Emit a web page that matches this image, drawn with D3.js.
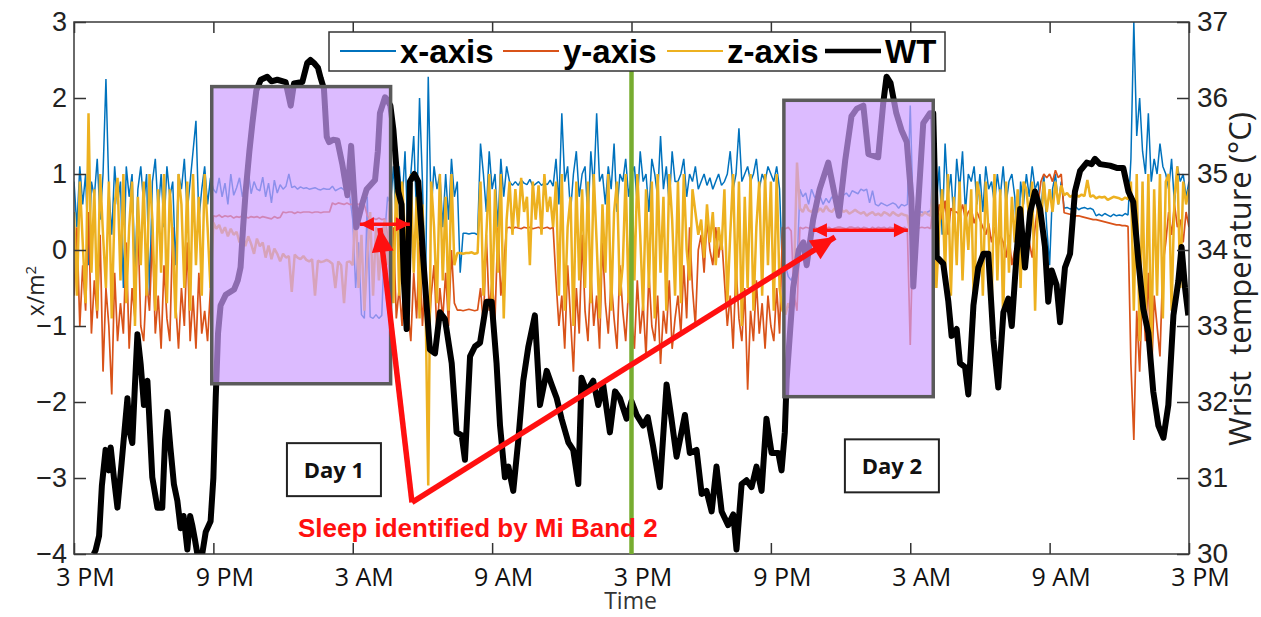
<!DOCTYPE html>
<html>
<head>
<meta charset="utf-8">
<script src="https://cdn.jsdelivr.net/npm/d3@7"></script>
<style>
  body { margin: 0; background: #fff; }
  svg { display: block; }
</style>
</head>
<body>
<svg id="chart" width="1261" height="617"></svg>
<script>
// ---------------------------------------------------------------
// Wrist accelerometer (x/y/z) and wrist temperature over 48 hours,
// starting at 3 PM. Accelerometer samples every 7.5 minutes.
// ---------------------------------------------------------------
const sampleStepHours = 0.125;

const accX = [
  0.9, 0.3, 1.1, 0.6, 1.0, -0.2, 0.9, 0.7,
  1.2, 0.4, 1.0, 2.25, 0.8, 0.2, 1.1, 0.6,
  0.9, -0.5, 1.1, 0.7, 1.0, -0.3, 0.8, 1.1,
  0.6, 1.0, -0.6, 0.9, 1.2, 0.5, 1.0, 0.3,
  1.1, 0.7, 0.9, -0.2, 1.0, 0.8, 1.2, 0.5,
  0.9, 1.3, 1.7, 0.4, 0.8, 1.1, 0.6, 0.95,
  0.8, 0.75, 0.95, 0.7, 0.88, 0.6, 1.0, 0.72,
  0.82, 0.95, 0.7, 0.86, 1.05, 0.74, 0.9, 0.8,
  0.78, 0.96, 0.7, 0.88, 0.62, 0.92, 0.75, 0.86,
  0.8, 0.84, 1.0, 0.82, 0.84, 0.8, 0.83, 0.81,
  0.82, 0.8, 0.81, 0.82, 0.8, 0.79, 0.81, 0.8,
  0.8, 0.84, 0.78, 0.8, 0.82, 0.79, 0.8, 0.7,
  0.4, -0.5, 0.1, -0.85, -0.9, 0.7, -0.88, -0.9,
  -0.85, -0.9, -0.86, 0.2, 0.7, 0.6, 1.1, 0.4,
  1.1, 0.6, 1.3, 0.2, 1.0, 1.5, 0.4, 2.0,
  0.9, -0.7, 2.28, 0.5, 1.1, 0.8, 1.0, 0.3,
  1.0, 0.4, 1.2, 0.7, 0.9, -0.3, 0.22, 0.22,
  0.21, 0.22, 0.22, 0.2, 1.4, 1.0, 0.5, 1.3,
  0.8, 1.0, 0.3, 1.2, 0.7, 1.1, 0.9, 0.85,
  0.9, 0.85, 0.92, 0.88, 0.86, 0.93, 0.84, 0.87,
  0.9, 0.85, 0.88, 0.86, 0.92, 0.84, 1.2, 0.6,
  1.8, 0.9, 1.1, 0.5, 1.0, 1.3, 0.7, 1.0,
  1.1, 0.4, 1.3, 0.8, 1.8, 0.9, 1.0, 0.6,
  1.1, 0.8, 1.4, 0.5, 1.0, 0.9, 1.2, 0.7,
  1.0, 1.1, 0.6, 1.3, 0.9, 1.0, 0.5, 1.2,
  1.0, 0.7, 1.5, 0.8, 1.1, 0.6, 1.3, 0.9,
  0.9, 1.0, 1.2, 0.7, 1.0, 0.9, 1.1, 0.8,
  0.9, 1.0, 0.85, 0.95, 0.8, 0.9, 1.0, 0.85,
  0.9, 1.0, 1.3, 0.8, 1.0, 1.6, 0.9, 1.0,
  1.1, 0.9, 1.0, 1.2, 0.8, 1.0, 0.9, 1.1,
  1.0, 0.9, 1.1, 0.8, -0.3, -0.2, -0.35, -0.4,
  -0.3, -0.25, 0.8, 0.7, 0.75, 0.6, 0.8, 0.7,
  0.65, 0.7, 0.6, 0.68, 0.62, 0.7, 0.66, 0.6,
  0.7, 0.72, 0.75, 0.7, 0.78, 0.76, 0.74, 0.8,
  0.78, 0.8, 0.62, 0.78, 0.6, 0.58, 0.62, 0.6,
  0.58, 0.6, 0.62, 0.6, 0.55, 0.6, 0.58, 0.6,
  1.9, 0.5, 0.45, 0.5, 0.5, 0.48, 0.5, 0.52,
  1.3, 0.6, 1.1, 0.2, 1.4, 0.7, 1.0, 0.4,
  1.2, 0.8, 1.3, 0.5, 1.0, 0.9, 1.1, 0.6,
  1.0, 0.5, 1.1, 0.8, 0.9, 0.6, 1.0, 0.7,
  1.1, 0.6, 0.9, 1.0, 0.7, -0.2, 0.9, 0.6,
  1.0, 0.7, 1.1, 0.8, 0.9, 0.5, 1.0, 0.3,
  -0.2, 0.8, 1.0, 0.6, 0.9, 0.55, 0.56, 0.54,
  0.55, 0.57, 0.53, 0.55, 0.56, 0.54, 0.55, 0.53,
  0.45, 0.47, 0.45, 0.48, 0.46, 0.44, 0.47, 0.45,
  0.46, 0.45, 0.48, 0.46, 1.2, 3.0, 1.5, 2.0,
  1.3, 1.0, 1.8, 0.9, 1.2, 1.0, 1.4, 1.1,
  1.0, 0.8, 1.2, 0.6, 1.1, 0.9, 1.0, 0.7,
  0.9
];

const accY = [
  -0.6, 0.3, -1.0, -0.2, -0.8, 0.5, -1.1, -0.4,
  -0.9, 0.2, -1.6, -0.5, -1.0, -1.9, -0.3, -1.2,
  -0.7, -1.1, 0.1, -1.3, -0.5, -0.9, 0.4, -1.0,
  -1.2, -0.4, -0.8, 0.2, -1.1, -0.6, -1.3, -0.2,
  -0.9, -1.2, 0.3, -0.7, -1.3, -0.5, -1.0, 0.1,
  -1.2, -0.6, -1.3, -0.3, -1.1, -0.8, -1.2, -0.5,
  0.45, 0.44, 0.46, 0.43, 0.45, 0.44, 0.45, 0.42,
  0.44, 0.43, 0.45, 0.44, 0.42, 0.44, 0.43, 0.44,
  0.42, 0.44, 0.43, 0.42, 0.41, 0.44, 0.42, 0.43,
  0.5, 0.49, 0.5, 0.5, 0.48, 0.5, 0.49, 0.5,
  0.5, 0.5, 0.49, 0.5, 0.5, 0.49, 0.5, 0.5,
  0.5, 0.62, 0.6, 0.62, 0.61, 0.6, 0.62, 0.6,
  0.6, 0.61, 0.6, 0.62, 0.6, 0.45, 0.4, 0.42,
  0.4, 0.42, 0.4, 0.41, 0.2, -0.6, 0.3, -0.9,
  -0.5, -1.0, 0.2, -0.8, -1.2, -0.3, -0.9, 0.1,
  -1.0, -0.4, -1.3, -0.6, -0.2, -1.1, -0.5, -0.9,
  -0.3, -1.0, 0.0, -0.7, -0.79, -0.79, -0.8, -0.79,
  -0.78, -0.79, -0.8, -0.79, -0.5, -1.0, 0.2, -0.8,
  -0.4, -0.9, 0.3, -0.6, -0.2, 0.29, 0.3, 0.28,
  0.3, 0.29, 0.28, 0.3, 0.29, 0.3, 0.28, 0.29,
  0.3, 0.28, 0.29, 0.3, 0.28, 0.3, -0.4, -1.0,
  -0.6, -1.3, -0.2, -0.9, -1.6, -0.5, -1.1, 0.2,
  -0.8, -1.2, -0.3, -1.0, -0.6, -1.3, 0.1, -0.7,
  -1.1, -0.4, -0.9, -1.3, -0.2, -0.8, -1.2, -0.5,
  -0.9, -1.3, -0.4, -1.1, -0.7, -1.4, -0.3, -1.0,
  -1.2, -0.6, -1.5, -0.8, -1.1, -0.4, -1.3, -0.9,
  -0.6, -1.1, -0.2, -0.9, 0.3, -0.5, -1.0, 0.0,
  0.2, -0.3, 0.4, 0.0, -0.2, 0.3, -0.1, 0.2,
  -0.4, -1.0, -0.6, -1.3, -0.2, -0.9, -1.2, -0.5,
  -1.84, -0.8, -1.2, -0.4, -1.1, -0.7, -1.3, -0.6,
  -1.0, -1.2, -0.5, -1.1, 0.3, 0.28, 0.3, 0.25,
  -0.6, -0.8, 0.3, 0.28, 0.3, 0.29, 0.27, 0.3,
  0.28, 0.3, 0.29, 0.28, 0.3, 0.27, 0.29, 0.3,
  0.3, 0.29, 0.28, 0.3, 0.3, 0.29, 0.3, 0.28,
  0.3, 0.29, 0.27, 0.3, 0.28, 0.3, 0.29, 0.3,
  0.28, 0.3, 0.29, 0.3, 0.29, 0.28, 0.3, 0.27,
  -1.25, 0.3, 0.28, 0.29, 0.3, 0.29, 0.3, 0.28,
  0.7, 0.3, 0.6, 0.4, 0.65, 0.2, 0.55, 0.5,
  0.5, 0.45, 0.6, 0.4, 0.5, 0.55, 0.35, 0.5,
  0.4, 0.3, 0.2, 0.35, 0.1, 0.3, 0.0, 0.2,
  0.1, -0.1, 0.2, -0.2, 0.0, -0.15, -0.2, -0.1,
  -0.2, 0.1, -0.1, 0.3, 0.6, 0.9, 1.0, 0.95,
  1.0, 0.9, 1.05, 0.95, 1.0, 0.49, 0.48, 0.47,
  0.46, 0.45, 0.45, 0.44, 0.43, 0.42, 0.41, 0.4,
  0.4, 0.39, 0.38, 0.37, 0.36, 0.35, 0.34, 0.33,
  0.33, 0.32, 0.32, 0.31, -1.5, -2.5, -0.8, -1.6,
  -0.5, -1.2, -0.3, -1.8, -0.6, -1.0, -1.4, -0.2,
  0.1, 0.5, 0.2, 0.6, 0.3, 0.4, 0.1, 0.5,
  0.3
];

const accZ = [
  0.5, -0.6, 0.9, 0.1, -0.7, 1.8, -0.3, 0.8,
  -0.8, 1.0, 0.2, -0.5, 0.9, -0.9, 0.6, 0.95,
  -0.4, 1.0, -0.7, 0.3, 0.9, -1.0, 0.7, -0.2,
  0.9, -0.6, 1.0, 0.4, -0.8, 0.8, -0.3, 1.0,
  -0.7, 0.8, 0.1, -0.9, 1.0, 0.6, -0.5, 0.9,
  -0.8, 1.0, -0.2, 0.7, -0.6, 1.0, 0.3, -0.5,
  0.36, 0.28, 0.33, 0.22, 0.3, 0.18, 0.28, 0.2,
  0.24, 0.1, 0.22, 0.05, 0.18, 0.08, -0.05, 0.15,
  0.05, 0.1, -0.1, 0.06, -0.12, 0.02, -0.05, -0.15,
  -0.05, -0.1, -0.08, -0.55, -0.06, -0.1, -0.12, -0.08,
  -0.13, -0.15, -0.12, -0.6, -0.14, -0.16, -0.15, -0.13,
  -0.15, -0.18, -0.5, -0.15, -0.2, -0.7, -0.16, -0.15,
  -0.2, 0.6, -0.5, 0.2, -0.8, -0.1, 0.5, -0.6,
  0.3, -0.4, 0.1, 0.4, -0.2, 0.9, -0.7, 1.0,
  -0.6, 0.9, 0.2, -0.8, 1.0, -0.3, 0.7, -0.9,
  0.6, -0.5, -3.1, 0.9, 0.3, -0.7, 1.0, -0.4,
  0.7, -0.8, 1.0, -0.2, -0.04, -0.04, -0.05, -0.04,
  -0.04, -0.03, -0.05, -0.04, 0.9, -0.6, 0.2, 1.0,
  -0.8, 0.8, -0.3, 1.0, -0.9, 0.4, 0.9, 0.2,
  0.8, 0.3, 0.95, 0.5, 0.7, -0.2, 0.9, 0.4,
  0.85, 0.2, 1.0, 0.5, 0.7, 0.3, 0.9, -0.6,
  1.0, -0.8, 0.3, 0.7, -1.0, 0.9, -0.4, 0.8,
  -0.5, 0.9, -0.7, 1.0, 0.1, -0.9, 0.6, -0.3,
  1.0, -0.8, 0.5, 0.9, -0.6, -0.2, 1.0, -0.7,
  0.9, -0.4, 1.0, 0.2, -0.8, 0.8, -0.5, 0.9,
  -0.9, 1.0, -0.3, 0.7, -0.8, 1.0, 0.4, -0.6,
  0.9, -0.7, 1.0, 0.0, -0.4, 0.8, 0.5, 0.2,
  0.4, -0.1, 0.6, 0.1, 0.5, -0.2, 0.3, 0.0,
  0.8, -0.7, 0.2, 1.0, -0.6, 0.9, -1.0, 0.7,
  -0.5, 1.0, -0.8, 0.3, 0.9, -0.6, 1.0, -0.2,
  0.9, -0.8, 1.0, -0.5, -0.8, -0.85, -0.7, -0.8,
  -0.3, 1.15, 0.55, 0.5, 0.6, 0.52, 0.5, 0.55,
  0.5, 0.55, 0.5, 0.58, 0.52, 0.5, 0.55, 0.5,
  0.55, 0.5, 0.52, 0.48, 0.5, 0.53, 0.5, 0.48,
  0.5, 0.45, 0.48, 0.5, 0.46, 0.48, 0.45, 0.5,
  0.48, 0.45, 0.5, 0.47, 0.45, 0.48, 0.46, 0.45,
  0.2, 0.5, 0.45, 0.48, 0.45, 0.5, 0.47, 0.45,
  0.9, -0.5, 0.3, 0.8, -0.3, 1.0, -0.6, 0.7,
  -0.2, 0.9, -0.4, 0.6, 0.0, 0.8, -0.9, 0.9,
  0.7, -0.6, 0.9, 0.2, -0.8, 1.0, -0.4, 0.8,
  -0.9, 0.9, -0.3, 0.7, 0.1, 0.8, -0.5, 0.9,
  0.8, 0.4, 0.9, -0.8, 0.7, 0.3, 0.9, 0.5,
  0.8, 0.5, 0.9, 0.6, 0.85, 0.72, 0.75, 0.7,
  0.72, 0.74, 0.7, 0.73, 0.71, 0.92, 0.7, 0.72,
  0.68, 0.7, 0.69, 0.7, 0.66, 0.68, 0.7, 0.69,
  0.68, 0.66, 0.69, 0.67, 0.9, -0.8, 1.0, -1.2,
  0.9, -1.0, 1.0, -1.4, 0.8, -0.6, 1.0, -0.9,
  0.9, 1.0, -0.8, 0.7, 1.1, -0.5, 0.9, 0.6,
  0.8
];

// Wrist temperature (°C), right axis
const wtHours = [
  0.85, 0.93, 1.08, 1.2, 1.36, 1.5, 1.58, 1.72, 1.87, 2.05, 2.3, 2.4, 2.51, 2.62, 2.73, 2.87,
  3.01, 3.16, 3.37, 3.59, 3.8, 3.92, 4.02, 4.15, 4.3, 4.45, 4.59, 4.72, 4.88, 5.0, 5.09, 5.2,
  5.31, 5.52, 5.67, 5.88, 6.0, 6.1, 6.2, 6.31, 6.53, 6.89, 7.05, 7.17, 7.28, 7.39, 7.55, 7.68,
  7.85, 8.04, 8.32, 8.5, 8.75, 9.11, 9.33, 9.47, 9.83, 10.04, 10.18, 10.33, 10.5, 10.62, 10.76, 10.88,
  10.98, 11.15, 11.34, 11.55, 11.77, 11.93, 12.15, 12.4, 12.6, 12.96, 13.08, 13.17, 13.39, 13.5, 13.62, 13.75,
  13.96, 14.1, 14.2, 14.32, 14.4, 14.46, 14.65, 14.82, 15.04, 15.32, 15.54, 15.75, 15.97, 16.26, 16.47, 16.69,
  16.83, 17.05, 17.26, 17.48, 17.76, 17.98, 18.19, 18.34, 18.55, 18.7, 18.91, 19.13, 19.34, 19.56, 19.84, 20.06,
  20.35, 20.56, 20.78, 20.99, 21.28, 21.49, 21.71, 21.85, 22.07, 22.35, 22.57, 22.78, 23.07, 23.29, 23.5, 23.79,
  24.0, 24.22, 24.5, 24.7, 24.93, 25.22, 25.51, 25.72, 25.94, 26.15, 26.3, 26.51, 26.8, 27.02, 27.23, 27.45,
  27.66, 27.88, 28.16, 28.38, 28.52, 28.74, 28.95, 29.17, 29.38, 29.6, 29.81, 30.03, 30.32, 30.46, 30.6, 30.68,
  30.96, 31.2, 31.4, 31.54, 31.82, 32.1, 32.47, 32.93, 33.2, 33.47, 33.7, 33.98, 34.2, 34.62, 34.84, 34.98,
  35.15, 35.4, 35.62, 35.85, 36.05, 36.13, 36.3, 36.56, 36.85, 36.99, 37.14, 37.42, 37.64, 37.78, 38.0, 38.14,
  38.36, 38.5, 38.72, 38.93, 39.15, 39.36, 39.58, 39.79, 40.01, 40.22, 40.37, 40.58, 40.73, 40.94, 41.16, 41.37,
  41.59, 41.8, 41.94, 42.09, 42.3, 42.45, 42.66, 42.88, 43.09, 43.31, 43.6, 43.81, 43.95, 44.17, 44.6, 44.89,
  45.17, 45.39, 45.6, 45.82, 46.03, 46.25, 46.46, 46.68, 46.9, 47.11, 47.33, 47.54, 47.68, 47.83, 47.97
];
const wtTemps = [
  30.0, 30.05, 30.24, 30.9, 31.37, 31.1, 31.4, 31.0, 30.61, 31.2, 32.05, 31.6, 31.46, 32.2, 32.89, 32.5,
  31.96, 32.28, 31.01, 30.61, 30.61, 31.5, 31.87, 31.4, 30.92, 30.7, 30.34, 30.5, 30.06, 30.5, 30.38, 30.2,
  30.0, 30.0, 30.29, 30.43, 31.0, 32.05, 32.9, 33.27, 33.41, 33.48, 33.6, 33.77, 34.3, 34.77, 35.3, 35.67,
  36.1, 36.24, 36.28, 36.22, 36.24, 36.21, 35.9, 36.19, 36.21, 36.46, 36.5, 36.46, 36.4, 36.26, 36.12, 35.49,
  35.42, 35.45, 35.44, 35.13, 34.72, 35.37, 34.3, 34.6, 34.8, 34.92, 35.3, 35.8, 36.01, 35.97, 35.9, 35.58,
  34.77, 34.6, 33.6, 32.96, 34.0, 34.9, 35.0, 34.9, 33.86, 32.69, 32.64, 33.18, 33.09, 32.51, 31.6, 31.56,
  31.24, 32.6, 32.73, 32.78, 33.32, 33.32, 32.51, 31.69, 31.01, 31.15, 30.83, 31.51, 32.28, 32.73, 33.14, 31.96,
  32.41, 32.23, 32.05, 31.78, 31.47, 31.37, 30.92, 32.32, 32.14, 32.28, 31.96, 32.23, 31.6, 32.14, 32.05, 31.78,
  32.01, 31.83, 31.69, 31.8, 31.42, 30.88, 32.23, 31.78, 31.28, 31.6, 31.83, 31.33, 31.37, 30.79, 30.83, 30.56,
  31.15, 30.56, 30.38, 30.52, 30.06, 30.92, 30.97, 30.88, 31.15, 30.83, 31.78, 31.33, 31.33, 31.1, 31.6, 32.3,
  33.5, 34.0, 34.1, 33.8, 34.4, 34.8, 35.15, 34.45, 35.18, 35.76, 35.86, 35.9, 35.26, 35.22, 35.94, 36.28,
  36.2, 35.8, 35.58, 35.42, 34.68, 33.52, 34.4, 35.67, 35.8, 35.8, 33.91, 33.82, 33.32, 32.87, 32.96, 32.51,
  32.46, 32.1, 33.27, 33.77, 33.95, 33.95, 32.82, 32.19, 33.18, 33.36, 33.0, 33.95, 34.54, 33.77, 34.49, 34.77,
  34.54, 34.04, 33.32, 33.73, 33.54, 33.05, 33.77, 33.95, 34.77, 35.04, 35.15, 35.13, 35.2, 35.13, 35.11, 35.08,
  35.08, 34.77, 34.63, 33.86, 33.23, 32.91, 32.14, 31.69, 31.53, 31.96, 33.14, 33.59, 34.04, 33.5, 33.14
];

// Sleep periods identified by the band (hours from start, value range on left axis)
const sleepStart = [5.93, 30.56];
const sleepEnd   = [13.63, 36.99];
const sleepTop    = [2.15, 1.97];
const sleepBottom = [-1.76, -1.93];
const dayLabels = ["Day 1", "Day 2"];
const dayLabelHour  = [11.19, 35.21];
const dayLabelValue = [-2.89, -2.84];

const middayHour = 24;   // 3 PM on the second day

const xTickHours  = [0, 6, 12, 18, 24, 30, 36, 42, 48];
const xTickLabels = ["3 PM", "9 PM", "3 AM", "9 AM", "3 PM", "9 PM", "3 AM", "9 AM", "3 PM"];
const leftTicks  = [-4, -3, -2, -1, 0, 1, 2, 3];
const rightTicks = [30, 31, 32, 33, 34, 35, 36, 37];

const seriesNames  = ["x-axis", "y-axis", "z-axis", "WT"];
const seriesColors = ["#0072BD", "#D95319", "#EDB120", "#000000"];

// ---------------------------------------------------------------
const svg = d3.select("#chart");
const plot = { left: 74, right: 1189, top: 22, bottom: 554 };

const x  = d3.scaleLinear().domain([0, 48]).range([plot.left, plot.right]);
const yL = d3.scaleLinear().domain([-4, 3]).range([plot.bottom, plot.top]);
const yR = d3.scaleLinear().domain([30, 37]).range([plot.bottom, plot.top]);

svg.append("defs").append("clipPath").attr("id", "plotClip")
  .append("rect")
  .attr("x", plot.left).attr("y", plot.top)
  .attr("width", plot.right - plot.left).attr("height", plot.bottom - plot.top);

const g = svg.append("g").attr("clip-path", "url(#plotClip)");

// accelerometer traces
const accLine = d3.line()
  .x((d, i) => x(i * sampleStepHours))
  .y(d => yL(d));

const accWidths = [1.5, 1.7, 2.5];
[accX, accY, accZ].forEach((series, k) => {
  g.append("path")
    .datum(series)
    .attr("d", accLine)
    .attr("fill", "none")
    .attr("stroke", seriesColors[k])
    .attr("stroke-width", accWidths[k])
    .attr("stroke-linejoin", "bevel");
});

// wrist temperature
const wtLine = d3.line()
  .x(d => x(d[0]))
  .y(d => yR(d[1]));
g.append("path")
  .datum(d3.zip(wtHours, wtTemps))
  .attr("d", wtLine)
  .attr("fill", "none")
  .attr("stroke", "#000")
  .attr("stroke-width", 6)
  .attr("stroke-linejoin", "round");

// translucent sleep windows
sleepStart.forEach((s, i) => {
  svg.append("rect")
    .attr("x", x(s))
    .attr("y", yL(sleepTop[i]))
    .attr("width", x(sleepEnd[i]) - x(s))
    .attr("height", yL(sleepBottom[i]) - yL(sleepTop[i]))
    .attr("fill", "rgb(204,157,255)")
    .attr("fill-opacity", 0.69)
    .attr("stroke", "#5a5a5a")
    .attr("stroke-width", 3.5);
});

// ---------------------------------------------------------------
// axes (ticks point inward)
const tickFontNum = "'Liberation Sans', Arial, sans-serif";
const intFormat = d3.format("d");

const xAxisBottom = d3.axisBottom(x).tickValues(xTickHours)
  .tickFormat((d, i) => xTickLabels[i]).tickSize(-11).tickPadding(14);
const gxb = svg.append("g").attr("transform", `translate(0,${plot.bottom})`).call(xAxisBottom);
gxb.selectAll("text")
  .attr("dx", 11)
  .style("font-family", "'Open Sans', sans-serif")
  .style("font-size", "25px")
  .attr("fill", "#111");

const xAxisTop = d3.axisTop(x).tickValues(xTickHours).tickFormat("").tickSize(-11);
svg.append("g").attr("transform", `translate(0,${plot.top})`).call(xAxisTop);

const yAxisLeft = d3.axisLeft(yL).tickValues(leftTicks).tickFormat(intFormat).tickSize(-12).tickPadding(7);
const gyl = svg.append("g").attr("transform", `translate(${plot.left},0)`).call(yAxisLeft);
gyl.selectAll("text")
  .style("font-family", tickFontNum)
  .style("font-size", "27px")
  .attr("fill", "#222");

const yAxisRight = d3.axisRight(yR).tickValues(rightTicks).tickFormat(intFormat).tickSize(-12).tickPadding(8);
const gyr = svg.append("g").attr("transform", `translate(${plot.right},0)`).call(yAxisRight);
gyr.selectAll("text")
  .style("font-family", tickFontNum)
  .style("font-size", "28px")
  .attr("fill", "#222");

svg.selectAll(".domain").remove();
svg.selectAll(".tick line").attr("stroke", "#333").attr("stroke-width", 1.5);

// frame
svg.append("rect")
  .attr("x", plot.left).attr("y", plot.top)
  .attr("width", plot.right - plot.left).attr("height", plot.bottom - plot.top)
  .attr("fill", "none").attr("stroke", "#3a3a3a").attr("stroke-width", 1.5);

// axis titles
svg.append("text")
  .attr("x", (plot.left + plot.right) / 2 - 1)
  .attr("y", 609)
  .attr("text-anchor", "middle")
  .style("font-family", "'Open Sans', sans-serif")
  .style("font-size", "23px")
  .attr("fill", "#333")
  .text("Time");

const yTitle = svg.append("text")
  .attr("transform", "translate(44,291) rotate(-90)")
  .attr("text-anchor", "middle")
  .style("font-family", "'Open Sans', sans-serif")
  .style("font-size", "23px")
  .attr("fill", "#222");
yTitle.append("tspan").text("x/m");
yTitle.append("tspan").attr("dy", -8).style("font-size", "15px").text("2");

svg.append("text")
  .attr("transform", "translate(1251,279) rotate(-90)")
  .attr("text-anchor", "middle")
  .style("font-family", "'Open Sans', sans-serif")
  .style("font-size", "31px")
  .style("white-space", "pre")
  .attr("fill", "#222")
  .text("Wrist  temperature (\u00B0C)");

// ---------------------------------------------------------------
// legend
const legendBox = { x: 329, y: 32, w: 616, h: 39 };

// midday marker (drawn under the legend box)
svg.append("line")
  .attr("x1", x(middayHour)).attr("x2", x(middayHour))
  .attr("y1", legendBox.y + legendBox.h).attr("y2", plot.bottom)
  .attr("stroke", "#77AC30").attr("stroke-width", 4.5);

const legend = svg.append("g");
legend.append("rect")
  .attr("x", legendBox.x).attr("y", legendBox.y)
  .attr("width", legendBox.w).attr("height", legendBox.h)
  .attr("fill", "#fff").attr("stroke", "#333").attr("stroke-width", 1.5);

const legendSampleX = [340, 503, 667, 825];
seriesNames.forEach((name, i) => {
  legend.append("line")
    .attr("x1", legendSampleX[i]).attr("x2", legendSampleX[i] + 56)
    .attr("y1", 51).attr("y2", 51)
    .attr("stroke", seriesColors[i])
    .attr("stroke-width", i === 3 ? 4.5 : 1.8);
  legend.append("text")
    .attr("x", legendSampleX[i] + 60)
    .attr("y", 63)
    .style("font-family", "'Liberation Sans', Arial, sans-serif")
    .style("font-weight", "bold")
    .style("font-size", "33px")
    .attr("fill", "#000")
    .text(name);
});

// ---------------------------------------------------------------
// red annotations: sleep spans and pointer lines
const red = "#ff1010";
const ann = svg.append("g");

function arrowHead(tip, from, len, half) {
  const dx = tip[0] - from[0], dy = tip[1] - from[1];
  const L = Math.hypot(dx, dy), ux = dx / L, uy = dy / L;
  const bx = tip[0] - ux * len, by = tip[1] - uy * len;
  return [[tip[0], tip[1]], [bx - uy * half, by + ux * half], [bx + uy * half, by - ux * half]];
}
function drawArrow(p0, p1, width, len, half, both) {
  const a = [x(p0[0]), yL(p0[1])], b = [x(p1[0]), yL(p1[1])];
  ann.append("line")
    .attr("x1", a[0]).attr("y1", a[1]).attr("x2", b[0]).attr("y2", b[1])
    .attr("stroke", red).attr("stroke-width", width);
  ann.append("polygon").attr("points", arrowHead(b, a, len, half).join(" ")).attr("fill", red);
  if (both) ann.append("polygon").attr("points", arrowHead(a, b, len, half).join(" ")).attr("fill", red);
}

const spanStart = [12.31, 31.81];
const spanEnd   = [14.46, 35.9];
const spanValue = [0.34, 0.26];
spanStart.forEach((s, i) => drawArrow([s, spanValue[i]], [spanEnd[i], spanValue[i]], 3.5, 14, 7, true));

const pointerVertex = [14.55, -3.32];
const pointerTips = [[13.17, 0.29], [32.76, 0.17]];
pointerTips.forEach(t => drawArrow(pointerVertex, t, 5.5, 24, 11, false));

ann.append("text")
  .attr("x", x(9.64)).attr("y", yL(-3.78))
  .style("font-family", "'Liberation Sans', Arial, sans-serif")
  .style("font-weight", "bold")
  .style("font-size", "26px")
  .attr("fill", red)
  .text("Sleep identified by Mi Band 2");

// day labels
dayLabels.forEach((lab, i) => {
  const cx = x(dayLabelHour[i]), cy = yL(dayLabelValue[i]);
  svg.append("rect")
    .attr("x", cx - 47).attr("y", cy - 26.5)
    .attr("width", 94).attr("height", 53)
    .attr("fill", "#fff").attr("stroke", "#222").attr("stroke-width", 2);
  svg.append("text")
    .attr("x", cx).attr("y", cy + 8)
    .attr("text-anchor", "middle")
    .style("font-family", "'Open Sans', sans-serif")
    .style("font-weight", "bold")
    .style("font-size", "22px")
    .attr("fill", "#111")
    .text(lab);
});
</script>
</body>
</html>
